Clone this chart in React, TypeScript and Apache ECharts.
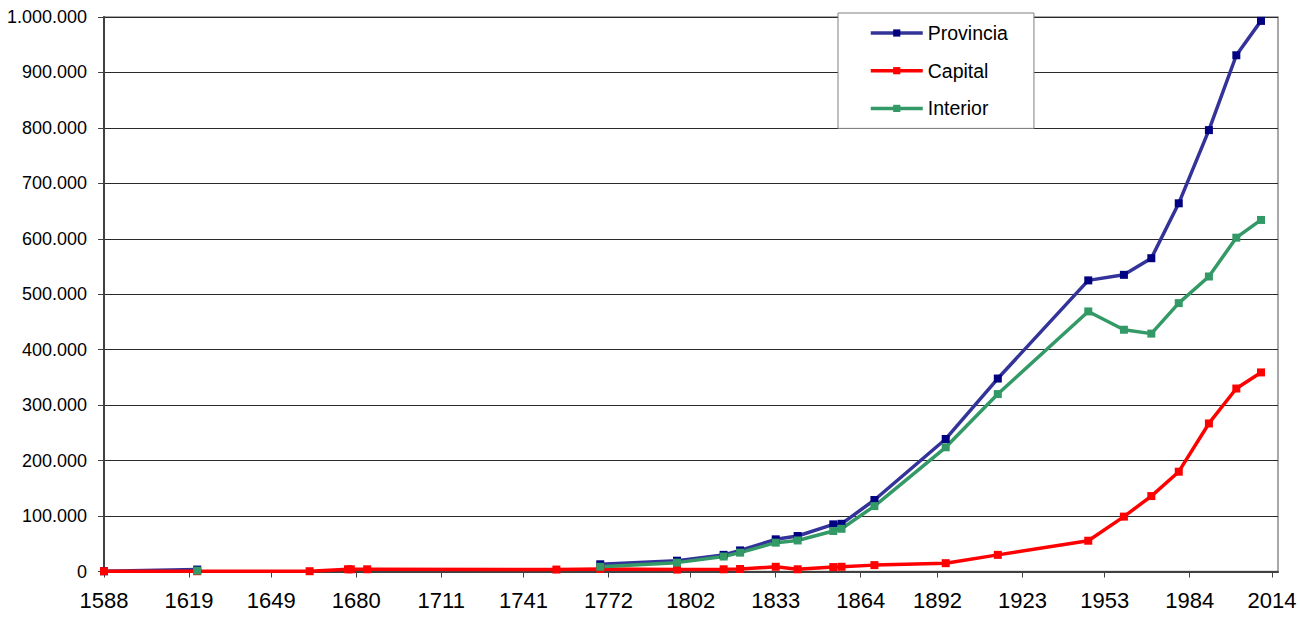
import React, { useEffect, useRef } from "react";
import * as echarts from "echarts";

// Census years (x values)
const years = [
  1588, 1622, 1663, 1677, 1678, 1684, 1753, 1769, 1797, 1814, 1820, 1833, 1841,
  1854, 1857, 1869, 1895, 1914, 1947, 1960, 1970, 1980, 1991, 2001, 2010,
];

// Series values (null = no data)
const provincia: (number | null)[] = [
  500, 3500, null, null, null, null, null, 13000, 19500, 30000, 38000, 58000,
  64000, 85000, 86000, 129000, 239000, 348000, 525000, 535000, 565000, 664000,
  796000, 931000, 993000,
];
const capital: (number | null)[] = [
  500, 500, 500, 4000, 4000, 4000, 3500, 4500, 3500, 4000, 4500, 8500, 4000,
  8000, 8500, 11500, 15000, 30000, 55500, 99000, 136000, 180000, 267000,
  330000, 359000,
];
const interior: (number | null)[] = [
  null, 1500, null, null, null, null, null, 8500, 16000, 27000, 34000, 52000,
  56000, 73000, 77000, 118000, 224000, 320000, 469000, 436000, 429000, 484000,
  532000, 602000, 634000,
];

// Axis tick labels
const xTickYears = [
  1588, 1619, 1649, 1680, 1711, 1741, 1772, 1802, 1833, 1864, 1892, 1923,
  1953, 1984, 2014,
];
const seriesNames = ["Provincia", "Capital", "Interior"];

const toPairs = (vals: (number | null)[]) =>
  years.map((y, i) => [y, vals[i] === null ? null : vals[i]]);

const fmtThousands = (v: number) =>
  String(Math.round(v)).replace(/\B(?=(\d{3})+(?!\d))/g, ".");

const FONT = "'Liberation Sans', Arial, sans-serif";

export default function App() {
  const ref = useRef<HTMLDivElement>(null);

  useEffect(() => {
    if (!ref.current) return;
    const chart = echarts.init(ref.current, undefined, { renderer: "svg" });

    const mkSeries = (
      name: string,
      vals: (number | null)[],
      lineColor: string,
      markColor: string
    ) => ({
      name,
      type: "line",
      data: toPairs(vals),
      symbol: "rect",
      symbolSize: 8,
      showSymbol: true,
      connectNulls: false,
      lineStyle: { color: lineColor, width: 3.5 },
      itemStyle: { color: markColor },
      emphasis: { disabled: true },
    });

    chart.setOption({
      animation: false,
      backgroundColor: "#ffffff",
      textStyle: { fontFamily: FONT },
      grid: {
        left: 104,
        right: 22,
        top: 17,
        bottom: 47.5,
        show: true,
        borderColor: "#8c8c8c",
        borderWidth: 1.5,
        backgroundColor: "transparent",
        containLabel: false,
        outerBoundsMode: "none",
      },
      legend: {
        orient: "vertical",
        left: 838,
        top: 13,
        data: seriesNames,
        backgroundColor: "#ffffff",
        borderColor: "#808080",
        borderWidth: 1,
        borderRadius: 0,
        padding: [9, 26, 9, 31],
        itemWidth: 52,
        itemHeight: 9,
        itemGap: 15.7,
        lineStyle: { width: 3.5 },
        textStyle: {
          fontFamily: FONT,
          fontSize: 19.5,
          color: "#000",
          lineHeight: 22,
        },
      },
      xAxis: {
        type: "value",
        min: 1588,
        max: 2016.2,
        axisLine: { show: true, lineStyle: { color: "#404040", width: 2 } },
        axisTick: {
          show: true,
          length: 6,
          customValues: xTickYears,
          lineStyle: { color: "#404040", width: 1 },
        },
        axisLabel: {
          customValues: xTickYears,
          formatter: (v: number) => String(v),
          fontFamily: FONT,
          fontSize: 22,
          color: "#000",
          margin: 18,
        },
        splitLine: { show: false },
      },
      yAxis: {
        type: "value",
        min: 0,
        max: 1000000,
        interval: 100000,
        axisLine: { show: true, lineStyle: { color: "#404040", width: 2 } },
        axisTick: {
          show: true,
          length: 6,
          lineStyle: { color: "#404040", width: 1 },
        },
        axisLabel: {
          formatter: (v: number) => fmtThousands(v),
          fontFamily: FONT,
          fontSize: 18,
          color: "#000",
          margin: 17,
        },
        splitLine: { show: true, lineStyle: { color: "#2a2a2a", width: 1 } },
      },
      series: [
        mkSeries(seriesNames[0], provincia, "#333399", "#000080"),
        mkSeries(seriesNames[1], capital, "#ff0000", "#ff0000"),
        mkSeries(seriesNames[2], interior, "#339966", "#339966"),
      ],
    });

    return () => chart.dispose();
  }, []);

  return (
    <div
      ref={ref}
      style={{
        position: "fixed",
        left: 0,
        top: 0,
        width: 1300,
        height: 619,
        background: "#fff",
      }}
    />
  );
}
